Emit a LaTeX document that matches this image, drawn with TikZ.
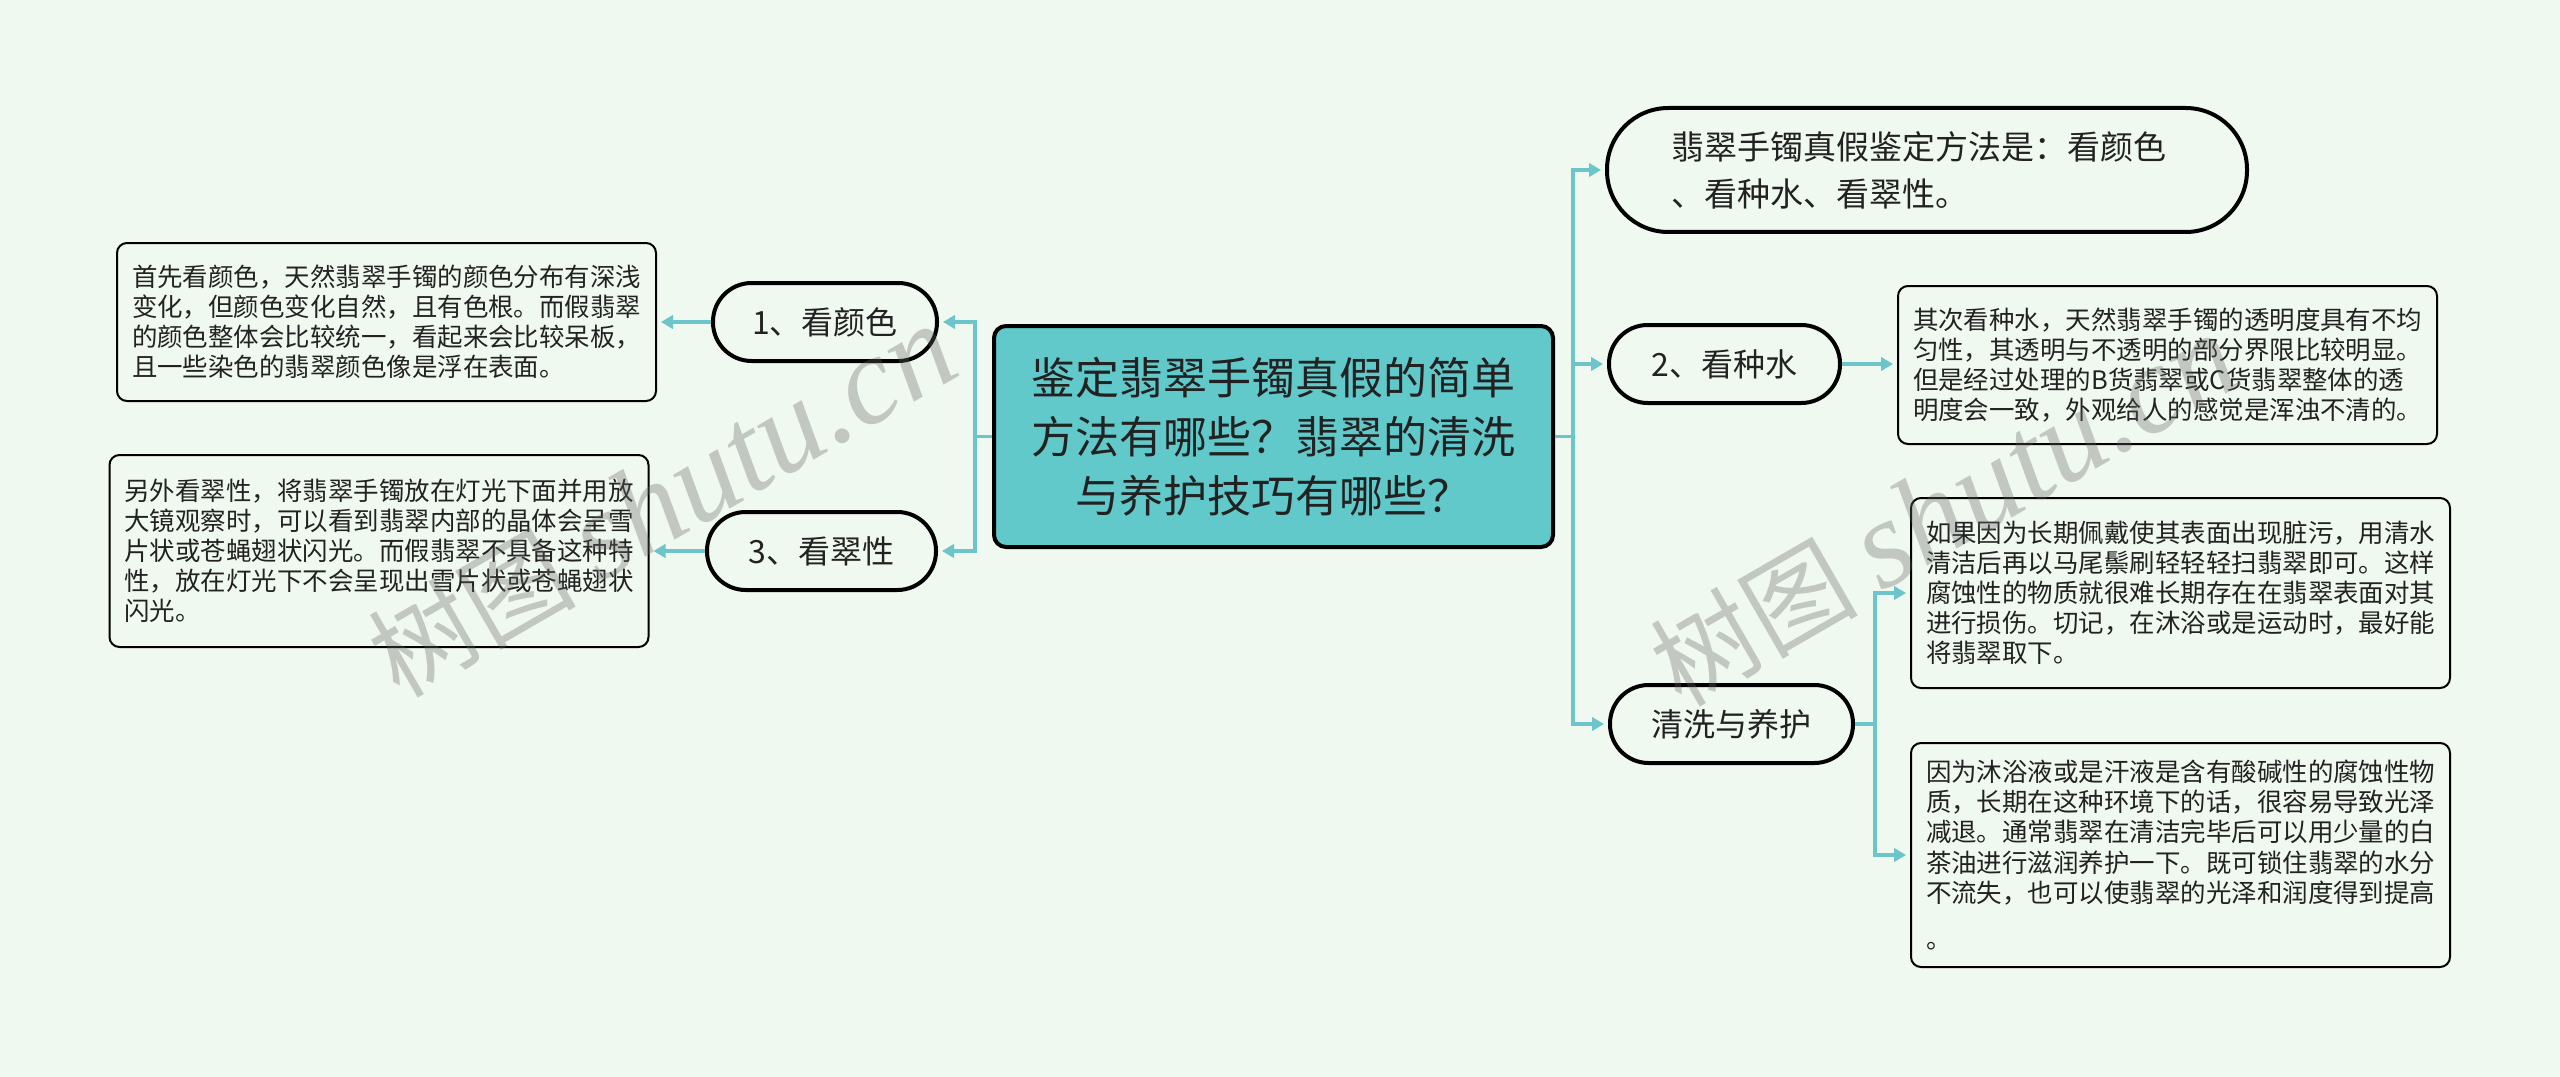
\documentclass[tikz,border=0pt]{standalone}
\usepackage{fontspec}
\setmainfont{Noto Sans CJK SC}
\newfontfamily\wmlat{Liberation Serif}
\usetikzlibrary{arrows.meta}
\definecolor{bgc}{HTML}{F0F9EF}
\definecolor{ctrfill}{HTML}{62C9CB}
\definecolor{linec}{HTML}{6CC5CA}
\definecolor{txt}{HTML}{222222}
\begin{document}
\begin{tikzpicture}[x=0.75pt,y=-0.75pt,
  conn/.style={draw=linec,line width=2.5pt},
  arr/.style={conn,-{Triangle[length=9pt,width=10pt]},shorten >=3pt},
  central/.style={draw=black,line width=3pt,fill=ctrfill,rounded corners=9pt,minimum width=419.25pt,minimum height=165.75pt,align=center,font=\fontsize{33pt}{44.25pt}\selectfont,text=txt,inner sep=0pt},
  pill/.style={draw=black,line width=3pt,fill=bgc,rounded corners=29pt,inner sep=0pt,minimum height=58.5pt,text=txt,font=\fontsize{24pt}{30pt}\selectfont},
  detail/.style={draw=black,line width=1.5pt,fill=bgc,rounded corners=7.5pt,align=left,inner xsep=11.25pt,inner ysep=0pt,text width=381.75pt,text=txt,font=\fontsize{19.1pt}{22.6pt}\selectfont},
  wm/.style={rotate=30,opacity=0.33,text=black!60,inner sep=0pt}
]
\fill[bgc] (0,0) rectangle (2560,1077);
\useasboundingbox (0,0) rectangle (2560,1077);

% central
\node[central] (c) at (1273.5,436.5) {鉴定翡翠手镯真假的简单\\方法有哪些？翡翠的清洗\\与养护技巧有哪些？};

% left branch
\node[pill,minimum width=168pt] (n1) at (825,322) {1、看颜色};
\node[pill,minimum width=171.75pt] (n3) at (821.5,551) {3、看翠性};
\node[detail,minimum height=118.5pt] (d1) at (386.5,322) {首先看颜色，天然翡翠手镯的颜色分布有深浅\\变化，但颜色变化自然，且有色根。而假翡翠\\的颜色整体会比较统一，看起来会比较呆板，\\且一些染色的翡翠颜色像是浮在表面。};
\node[detail,minimum height=144pt] (d3) at (379,551) {另外看翠性，将翡翠手镯放在灯光下面并用放\\大镜观察时，可以看到翡翠内部的晶体会呈雪\\片状或苍蝇翅状闪光。而假翡翠不具备这种特\\性，放在灯光下不会呈现出雪片状或苍蝇翅状\\闪光。};

% right branch
\node[pill,minimum width=480pt,minimum height=93pt,rounded corners=46pt,align=left,text width=384pt,font=\fontsize{24.75pt}{35.25pt}\selectfont] (top) at (1927,170) {翡翠手镯真假鉴定方法是：看颜色\\、看种水、看翠性。};
\node[pill,minimum width=173.25pt] (n2) at (1724.5,364) {2、看种水};
\node[pill,minimum width=182.25pt] (n4) at (1731.5,724) {清洗与养护};
\node[detail,minimum height=118.5pt] (d2) at (2167.5,365) {其次看种水，天然翡翠手镯的透明度具有不均\\匀性，其透明与不透明的部分界限比较明显。\\但是经过处理的B货翡翠或C货翡翠整体的透\\明度会一致，外观给人的感觉是浑浊不清的。};
\node[detail,minimum height=142.5pt] (d4) at (2180.5,593) {如果因为长期佩戴使其表面出现脏污，用清水\\清洁后再以马尾鬃刷轻轻轻扫翡翠即可。这样\\腐蚀性的物质就很难长期存在在翡翠表面对其\\进行损伤。切记，在沐浴或是运动时，最好能\\将翡翠取下。};
\node[detail,minimum height=168pt] (d5) at (2180.5,855) {因为沐浴液或是汗液是含有酸碱性的腐蚀性物\\质，长期在这种环境下的话，很容易导致光泽\\减退。通常翡翠在清洁完毕后可以用少量的白\\茶油进行滋润养护一下。既可锁住翡翠的水分\\不流失，也可以使翡翠的光泽和润度得到提高\\[12pt]。};

% connectors
\coordinate (lj) at (975,436.5);
\coordinate (rj) at (1573,436.5);
\coordinate (qj) at (1875,724);
\draw[conn] (c.west) -- (lj);
\draw[arr] (lj) |- (n1.east);
\draw[arr] (lj) |- (n3.east);
\draw[arr] (n1.west) -- (d1.east);
\draw[arr] (n3.west) -- (d3.east);
\draw[conn] (c.east) -- (rj);
\draw[arr] (rj) |- (top.west);
\draw[arr] (rj) |- (n2.west);
\draw[arr] (rj) |- (n4.west);
\draw[arr] (n2.east) -- (n2.east -| d2.west);
\draw[conn] (n4.east) -- (qj);
\draw[arr] (qj) |- (d4.west);
\draw[arr] (qj) |- (d5.west);

% watermarks
\node[wm] (wm1) at (662,502) {\fontsize{78pt}{78pt}\selectfont 树图 {\wmlat\itshape\fontsize{94pt}{94pt}\selectfont shutu.cn}};
\node[wm] (wm2) at (1944,511) {\fontsize{78pt}{78pt}\selectfont 树图 {\wmlat\itshape\fontsize{94pt}{94pt}\selectfont shutu.cn}};
\end{tikzpicture}
\end{document}
